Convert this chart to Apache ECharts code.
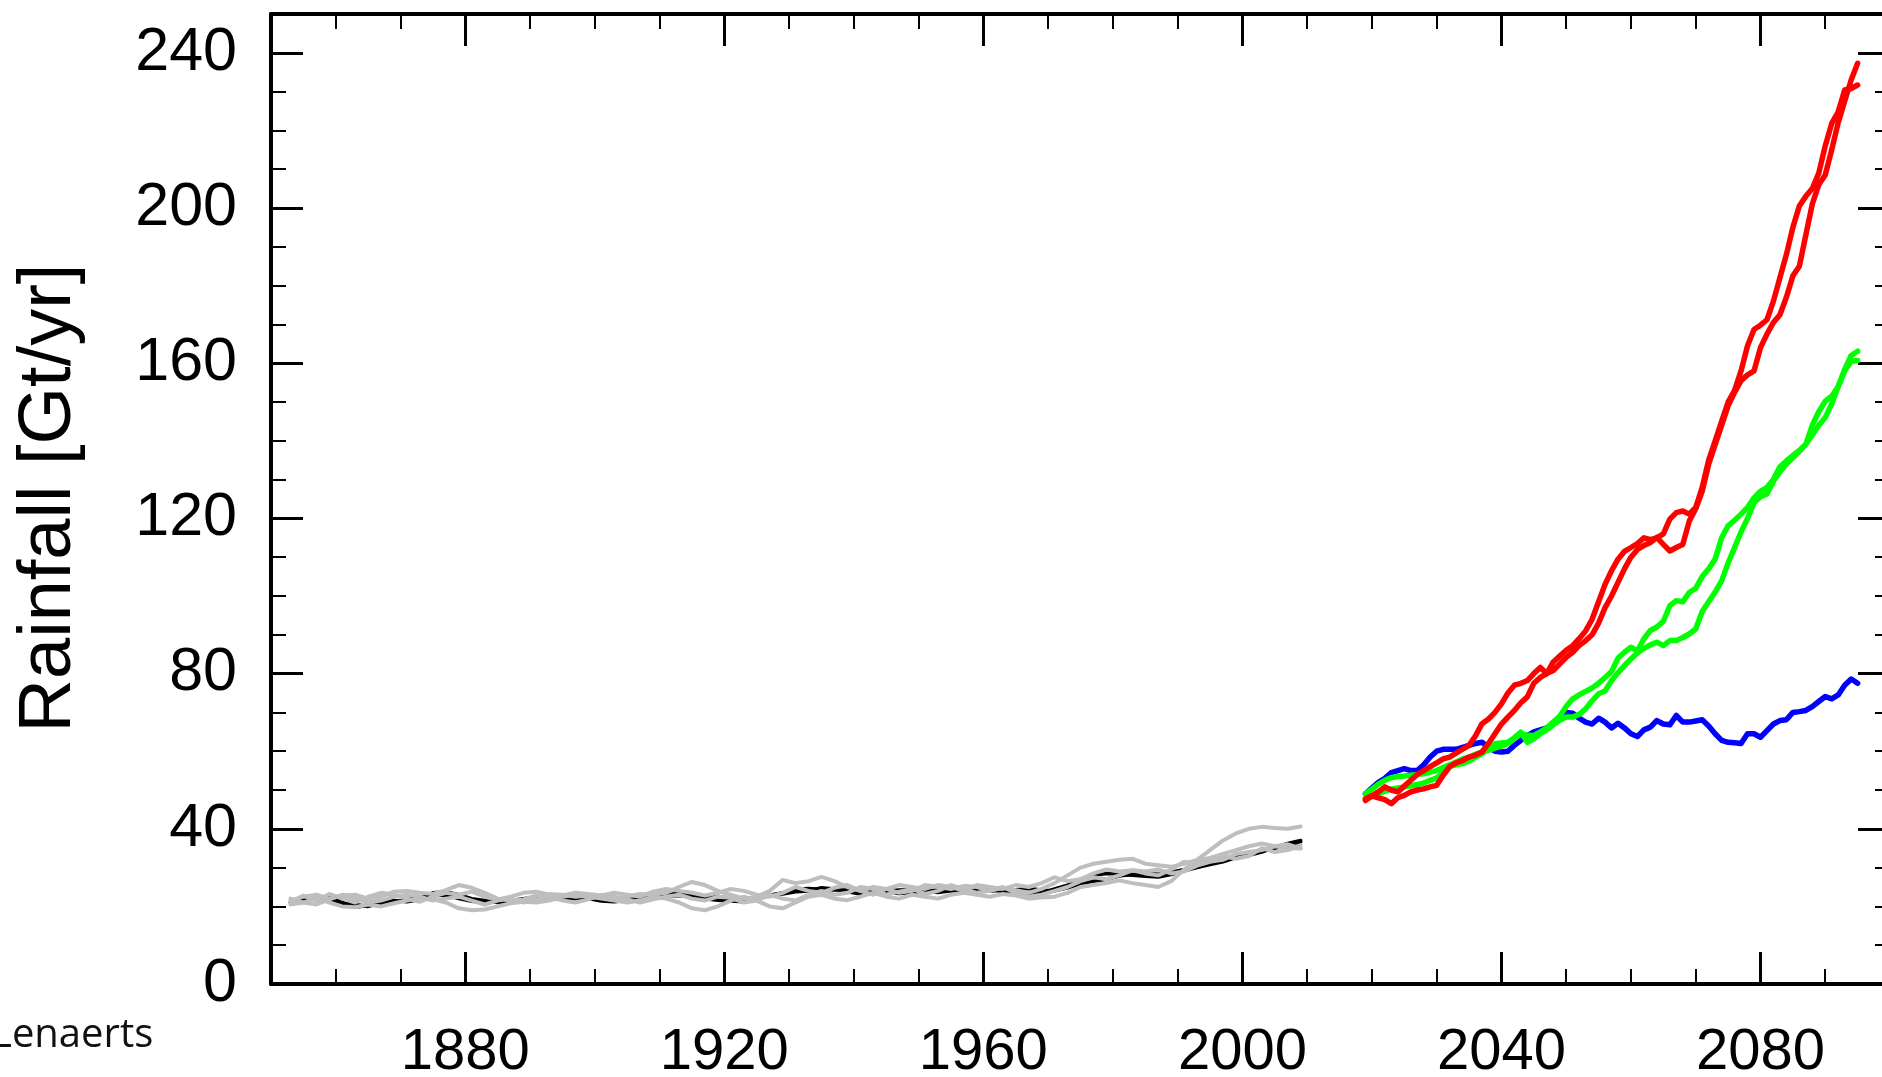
<!DOCTYPE html>
<html>
<head>
<meta charset="utf-8">
<script src="https://cdn.jsdelivr.net/npm/echarts@6/dist/echarts.min.js"></script>
<style>
html,body{margin:0;padding:0;background:#fff;}
#chart{width:1882px;height:1077px;}
</style>
</head>
<body>
<div id="chart"></div>
<script>
// ---------- DATA ----------
// Historical years (every second year, 1853..2009)
const histYears = [];
for (let y = 1853; y <= 2009; y += 2) histYears.push(y);
// Future years 2019..2095
const futureYears = [];
for (let y = 2019; y <= 2095; y++) futureYears.push(y);

const xMajorTicks = [1880, 1920, 1960, 2000, 2040, 2080];
const xMinorTicks = [1860, 1870, 1890, 1900, 1910, 1930, 1940, 1950, 1970, 1980, 1990,
                     2010, 2020, 2030, 2050, 2060, 2070, 2090];
const yMajorTicks = [0, 40, 80, 120, 160, 200, 240];
const yMinorTicks = [10, 20, 30, 50, 60, 70, 90, 100, 110, 130, 140, 150, 170, 180, 190, 210, 220, 230];

const black1 = [21.0,21.5,22.3,22.5,21.0,19.8,20.2,20.5,21.0,21.8,
  22.3,22.8,22.9,22.0,21.3,21.0,21.2,21.2,21.5,22.0,
  22.3,22.5,22.3,22.0,21.4,21.2,21.6,22.0,22.3,22.8,
  23.5,23.0,22.0,21.6,21.4,21.2,21.8,22.8,23.5,24.4,
  24.6,24.4,24.2,24.2,24.0,23.8,23.6,23.3,23.6,24.0,
  24.2,24.4,24.6,24.4,23.9,24.2,23.8,23.3,23.5,24.5,
  25.5,27.0,28.0,28.5,28.3,28.0,27.8,27.6,28.2,29.2,
  30.0,30.8,31.5,32.6,33.6,34.3,35.0,35.8,36.6];
const black2 = [21.0,22.0,21.8,21.5,20.8,20.5,20.0,20.8,21.5,21.2,
  21.8,23.5,23.8,23.0,22.0,21.5,21.0,21.5,22.0,22.5,
  22.0,21.8,22.0,22.3,22.0,21.8,22.0,22.4,22.2,22.5,
  22.8,22.5,22.4,22.6,22.0,21.8,22.2,23.0,23.2,23.8,
  24.0,24.8,24.5,23.8,23.2,23.5,24.0,24.2,24.3,24.0,
  23.6,24.0,24.2,24.8,24.5,23.8,24.3,24.6,24.2,24.0,
  24.8,25.8,26.5,27.0,27.8,28.3,28.5,28.3,28.8,29.5,
  30.5,31.0,31.8,32.8,33.2,34.0,35.2,36.2,37.0];
const grey1 = [21.5,22.5,23.0,22.0,22.8,23.0,22.0,22.5,23.8,24.0,
  23.5,23.2,24.2,25.5,24.8,23.5,22.0,21.5,21.8,22.8,
  23.2,23.0,22.5,22.8,22.5,22.0,22.6,23.2,23.0,23.5,
  25.0,26.3,25.5,24.0,23.0,22.0,22.5,24.0,26.8,26.0,
  26.5,27.6,26.5,25.0,24.0,25.0,24.5,23.5,24.0,25.5,
  25.0,24.5,25.3,25.0,24.0,24.8,24.2,23.5,24.5,26.0,
  28.0,30.0,31.0,31.5,32.0,32.3,31.0,30.6,30.2,31.0,
  32.0,34.5,37.0,38.8,40.0,40.5,40.2,40.0,40.6];
const grey2 = [20.5,21.0,22.2,21.0,20.0,19.8,20.5,20.0,20.8,21.5,
  22.0,21.8,21.0,19.5,19.0,19.2,20.0,20.8,21.2,21.0,
  21.5,22.5,23.0,22.5,22.0,21.5,21.0,21.5,22.5,22.0,
  21.0,19.5,19.0,20.0,21.5,22.5,21.5,20.0,19.5,21.0,
  22.5,23.0,22.0,21.6,22.5,23.5,22.5,22.0,23.0,22.5,
  22.0,23.0,23.5,23.0,22.5,23.2,22.8,22.0,22.3,22.5,
  23.5,25.0,25.5,26.0,26.7,26.0,25.5,25.0,26.5,29.5,
  31.9,32.5,33.5,34.5,35.5,36.2,35.5,35.0,34.9];
const grey3 = [21.0,22.8,21.5,23.2,22.0,21.0,22.5,23.5,23.0,22.0,
  21.2,22.5,23.5,23.0,23.8,22.5,21.8,22.5,23.5,23.8,
  23.0,22.8,23.5,23.2,22.8,23.5,23.0,22.5,23.8,24.5,
  24.0,23.5,22.8,23.5,24.5,24.0,23.0,22.5,23.5,25.0,
  24.0,23.5,24.8,25.5,24.0,23.0,24.5,25.5,25.0,24.5,
  25.5,25.0,24.0,25.5,25.0,24.5,25.5,25.0,26.0,27.5,
  26.5,27.0,28.5,29.5,29.0,29.3,28.5,28.0,29.5,31.5,
  31.0,32.0,33.0,32.3,33.0,35.0,34.0,34.5,35.8];
const grey4 = [22.0,21.0,20.5,21.8,23.0,22.0,21.0,21.5,22.5,23.0,
  22.5,21.5,22.0,22.5,21.5,20.5,21.5,22.0,21.0,21.8,
  22.5,21.5,21.0,21.8,23.0,22.5,21.8,21.0,21.8,22.5,
  23.0,22.0,21.5,22.5,22.2,21.0,21.5,23.0,22.0,21.5,
  23.0,24.0,23.0,23.5,25.0,24.5,23.0,23.8,24.5,23.2,
  24.0,25.5,24.5,23.5,24.0,25.0,23.5,22.5,23.0,24.0,
  25.0,26.5,27.5,27.0,28.0,29.3,29.0,29.5,28.5,29.0,
  30.5,31.5,32.0,33.5,34.0,34.5,35.5,36.0,35.0];

const blue = [49,50.5,52,53,54.5,55,55.5,55,55,56.5,
  58.5,60,60.5,60.5,60.5,61,61.5,62,62.3,61,
  60,59.8,60,61.5,62.8,64,65,65.5,66,67,
  68.5,70,69.8,68.5,67.5,67,68.5,67.5,66,67.2,
  66,64.5,63.8,65.5,66.2,67.9,67,66.8,69.2,67.5,
  67.5,67.8,68.1,66.5,64.5,62.8,62.3,62.2,62,64.5,
  64.5,63.6,65.3,67,67.9,68.1,70,70.2,70.5,71.5,
  72.8,74.1,73.5,74.5,77,78.6,77.5];
const green1 = [49.1,50.2,51.5,52.5,53.2,53.5,53.6,53.8,54,54.2,
  54.6,55,55.8,56.5,57.2,58,58.5,59.2,59.8,60.2,
  60.8,61.3,62,63.3,64.5,64.2,64,65,66,67.5,
  69,71.5,73.5,74.5,75.4,76.3,77.5,79,80.5,84,
  85.5,86.8,85.8,89,91.1,92,93.5,97.5,98.8,98.5,
  100.9,102,105,107,109.5,115,118.1,119.5,121.1,122.8,
  125.3,127,128,130,133.3,134.8,136.2,137.5,139.1,144,
  147.5,150.2,151.5,154,158.4,162,163.1];
const green2 = [47.7,48.3,49,49.7,50.2,50.5,50.8,51.1,51.4,51.8,
  52.5,53.1,54.5,56,56.5,56.8,57.5,58.4,59.3,60.6,
  61.9,62.1,62.3,63.5,64.9,62.3,63.2,64.5,65.5,66.8,
  68,68.8,68.8,69.5,70.9,73,74.8,75.5,78.2,80.2,
  82.1,83.8,85.3,86.5,87.4,88.1,87.2,88.5,88.5,89.3,
  90.2,91.5,96,98.5,101,103.9,108.5,112.5,116.5,120,
  124,125.6,126.3,129.6,132,134,135.6,137.3,139.1,141.5,
  144,146,149.5,154,158,160.5,160.7];
const red1 = [47.7,48.5,49.5,50.8,50,49.5,51,52.5,54,55,
  56,57,58,58.5,59.5,60.5,61.5,64,67.1,68.3,
  70,72.2,75,77,77.5,78.2,80,81.6,80,83,
  84.5,86,87.2,89,91,94,98.5,103,106.5,109.5,
  111.5,112.5,113.5,115,114.5,115,116,119.8,121.5,121.9,
  121.1,122.8,128,135,140,145,150,153,158,164.5,
  168.7,169.8,171.2,176,182,188,195,200.5,203,205,
  209,216,221.8,224.8,230.4,230.8,231.7];
const red2 = [47.3,48.5,48,47.5,46.5,48,48.6,49.5,50,50.3,
  50.8,51.2,53.8,56,57,57.6,58.5,59,59.8,62,
  64.5,67,68.8,70.5,72.5,74,77.5,79,80,80.8,
  82.5,84.2,85.5,87.2,88.5,90,93,97,100,103.5,
  107,110,112,113,113.8,115.1,113.3,111.6,112.5,113.3,
  119.3,122.5,127,134,139,144,149,152.5,155.5,157,
  158,164,167.5,170.5,172.5,177,182.5,185,193,201,
  206,208.5,215,222,227.5,233,237.3];

// ---------- CHART ----------
function pairs(xs, ys) { return xs.map((x, i) => [x, ys[i]]); }
function line(name, xs, ys, color, width) {
  return { name, type: 'line', data: pairs(xs, ys), xAxisIndex: 0, yAxisIndex: 0,
    showSymbol: false, symbol: 'none', silent: true,
    lineStyle: { color, width, join: 'round', cap: 'round' } };
}
const FONT = '"Liberation Sans", Arial, sans-serif';
const plain = v => String(v);
function xAx(pos, ticks, len, w, labels, showLine) {
  return { type: 'value', min: 1850, max: 2100, position: pos, gridIndex: 0,
    axisLine: { show: showLine, onZero: false, lineStyle: { color: '#000', width: 4 } },
    axisTick: { show: true, inside: true, length: len, customValues: ticks, lineStyle: { color: '#000', width: w } },
    axisLabel: labels ? { show: true, customValues: ticks, formatter: plain, fontSize: 58, color: '#000', fontFamily: FONT, margin: 40 } : { show: false },
    splitLine: { show: false } };
}
function yAx(pos, ticks, len, w, labels, showLine) {
  return { type: 'value', min: 0, max: 250, position: pos, gridIndex: 0,
    axisLine: { show: showLine, onZero: false, lineStyle: { color: '#000', width: 4 } },
    axisTick: { show: true, inside: true, length: len, customValues: ticks, lineStyle: { color: '#000', width: w } },
    axisLabel: labels ? { show: true, customValues: ticks, formatter: plain, fontSize: 61, color: '#000', fontFamily: FONT, margin: 34 } : { show: false },
    splitLine: { show: false } };
}

const chart = echarts.init(document.getElementById('chart'), null, { renderer: 'canvas' });
chart.setOption({
  animation: false,
  backgroundColor: '#fff',
  grid: { left: 271, top: 14, width: 1619, height: 970, outerBoundsMode: 'none', containLabel: false },
  xAxis: [
    xAx('bottom', xMajorTicks, 32, 3, true, true),
    xAx('bottom', xMinorTicks, 15, 2, false, false),
    xAx('top', xMajorTicks, 32, 3, false, true),
    xAx('top', xMinorTicks, 15, 2, false, false)
  ],
  yAxis: [
    yAx('left', yMajorTicks, 32, 3, true, true),
    yAx('left', yMinorTicks, 15, 2, false, false),
    yAx('right', yMajorTicks, 32, 3, false, true),
    yAx('right', yMinorTicks, 15, 2, false, false)
  ],
  graphic: [
    { type: 'text', x: 50, y: 498, rotation: Math.PI / 2, silent: true,
      style: { text: 'Rainfall [Gt/yr]', font: '74px "Liberation Sans", Arial, sans-serif', fill: '#000',
               align: 'center', verticalAlign: 'middle', textAlign: 'center', textVerticalAlign: 'middle' } },
    { type: 'text', x: -9, y: 1036, silent: true,
      style: { text: 'Lenaerts', font: '40px "Open Sans", sans-serif', fill: '#111',
               align: 'left', verticalAlign: 'middle', textAlign: 'left', textVerticalAlign: 'middle' } }
  ],
  series: [
    line('obs1', histYears, black1, '#000000', 3.5),
    line('obs2', histYears, black2, '#000000', 3.5),
    line('hist1', histYears, grey1, '#bebebe', 4),
    line('hist2', histYears, grey2, '#bebebe', 4),
    line('hist3', histYears, grey3, '#bebebe', 4),
    line('hist4', histYears, grey4, '#bebebe', 4),
    line('low', futureYears, blue, '#0000ff', 5.5),
    line('mid1', futureYears, green1, '#00ff00', 5.5),
    line('mid2', futureYears, green2, '#00ff00', 5.5),
    line('high1', futureYears, red1, '#ff0000', 5.5),
    line('high2', futureYears, red2, '#ff0000', 5.5)
  ]
});
</script>
</body>
</html>
